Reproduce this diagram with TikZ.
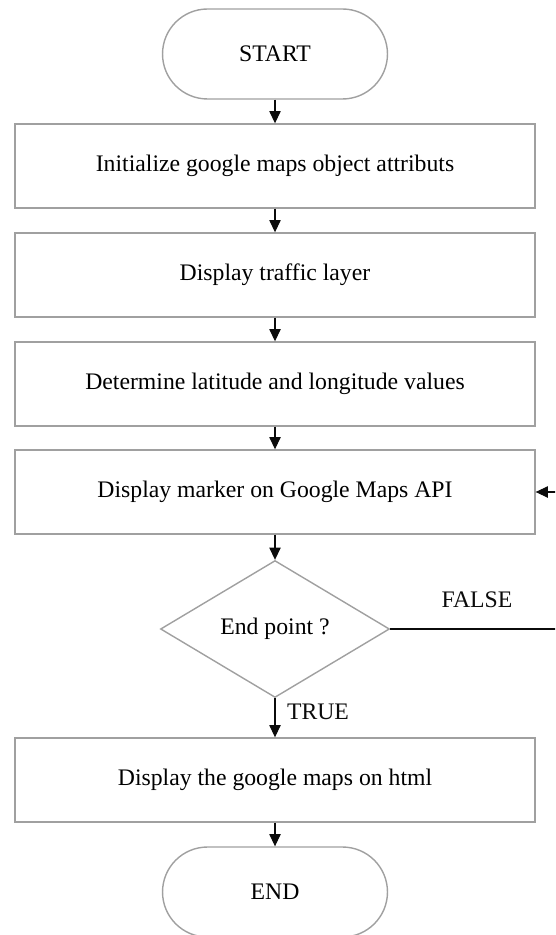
\documentclass[tikz,border=0pt]{standalone}
\usepackage{fontspec}
\setmainfont{Liberation Serif}
\usepackage{tikz}
\usetikzlibrary{arrows.meta, positioning, calc, shapes.geometric}
\definecolor{boxline}{HTML}{A0A0A0}
\definecolor{inkprimary}{HTML}{0B0B0B}

\begin{document}
\begin{tikzpicture}[
  x=0.02cm, y=-0.02cm,
  term/.style={draw=boxline, line width=0.8pt, rounded corners=0.9cm, minimum width=4.5cm, minimum height=1.8cm, font=\fontsize{13.5}{16}\selectfont},
  proc/.style={draw=boxline, line width=0.8pt, minimum width=10.4cm, minimum height=1.68cm, font=\fontsize{13.5}{16}\selectfont},
  decide/.style={draw=boxline, line width=0.8pt, diamond, inner sep=0pt, minimum width=4.58cm, minimum height=2.74cm, font=\fontsize{13.5}{16}\selectfont},
  flow/.style={inkprimary, line width=0.6pt, -{Triangle[length=7pt, width=6.5pt]}},
  branchlabel/.style={font=\fontsize{13.5}{16}\selectfont, color=inkprimary}
]
\useasboundingbox (0,0) rectangle (555,935);
\clip (0,0) rectangle (555,935);

% ---- main column ----
\node[term]   (start)   at (275, 54)  {START};
\node[proc]   (init)    at (275, 166) {Initialize google maps object attributs};
\node[proc]   (traffic) at (275, 275) {Display traffic layer};
\node[proc]   (latlon)  at (275, 384) {Determine latitude and longitude values};
\node[proc]   (marker)  at (275, 492) {Display marker on Google Maps API};
\node[decide] (endpt)   at (275, 629) {End point ?};
\node[proc]   (html)    at (275, 780) {Display the google maps on html};
\node[term]   (stop)    at (275, 892) {END};

\draw[flow] (start) -- (init);
\draw[flow] (init) -- (traffic);
\draw[flow] (traffic) -- (latlon);
\draw[flow] (latlon) -- (marker);
\draw[flow] (marker) -- (endpt);
\draw[flow] (endpt) -- (html);
\draw[flow] (html) -- (stop);

% ---- loop back (runs past the right edge) ----
\coordinate (loopR) at (580, 629);
\draw[flow] (endpt.east) -- (loopR) |- (marker.east);

\node[branchlabel] at (477, 600) {FALSE};
\node[branchlabel] at (318, 712) {TRUE};
\end{tikzpicture}
\end{document}
